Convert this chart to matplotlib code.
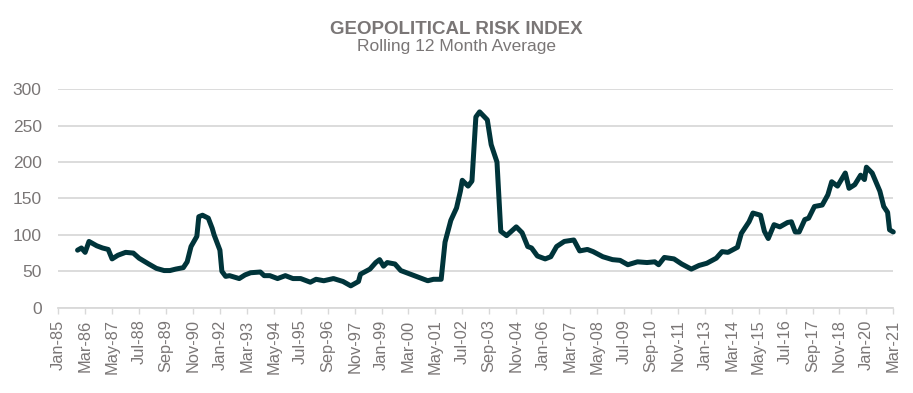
import matplotlib
matplotlib.use("Agg")
import matplotlib.pyplot as plt
import matplotlib.dates as mdates
import pandas as pd

plt.rcParams['font.family'] = ['Liberation Sans', 'DejaVu Sans']

dates = [
    "1985-11", "1986-01", "1986-03", "1986-05", "1986-09", "1986-12", "1987-03", "1987-05",
    "1987-08", "1987-12", "1988-04", "1988-07", "1988-12", "1989-04", "1989-08", "1989-11",
    "1990-02", "1990-06", "1990-08", "1990-10", "1991-01", "1991-02", "1991-04", "1991-07",
    "1991-09", "1991-10", "1992-01", "1992-02", "1992-04", "1992-06", "1992-11", "1993-02",
    "1993-05", "1993-10", "1993-12", "1994-03", "1994-07", "1994-11", "1995-03", "1995-07",
    "1995-12", "1996-03", "1996-07", "1996-12", "1997-05", "1997-09", "1998-01", "1998-02",
    "1998-07", "1998-10", "1998-12", "1999-02", "1999-04", "1999-08", "1999-11", "2000-05",
    "2000-10", "2001-01", "2001-04", "2001-08", "2001-10", "2002-01", "2002-04", "2002-06",
    "2002-07", "2002-10", "2002-12", "2003-02", "2003-04", "2003-08", "2003-10", "2004-01",
    "2004-03", "2004-06", "2004-11", "2005-02", "2005-05", "2005-07", "2005-10", "2006-02",
    "2006-05", "2006-08", "2006-12", "2007-05", "2007-08", "2007-12", "2008-03", "2008-08",
    "2009-01", "2009-05", "2009-09", "2010-02", "2010-07", "2010-11", "2011-01", "2011-04",
    "2011-09", "2012-01", "2012-06", "2012-10", "2013-02", "2013-07", "2013-10", "2014-01",
    "2014-06", "2014-08", "2014-12", "2015-02", "2015-06", "2015-08", "2015-10", "2016-01",
    "2016-04", "2016-08", "2016-10", "2016-12", "2017-02", "2017-05", "2017-07", "2017-10",
    "2018-02", "2018-05", "2018-07", "2018-10", "2019-02", "2019-04", "2019-07", "2019-10",
    "2019-12", "2020-01", "2020-04", "2020-08", "2020-10", "2020-12", "2021-01", "2021-03",
]
values = [
    79, 82, 76, 91, 85, 82, 80, 67,
    72, 76, 75, 68, 60, 54, 51, 51,
    53, 55, 63, 84, 98, 125, 127, 123,
    109, 100, 79, 50, 43, 44, 40, 45,
    48, 49, 44, 44, 40, 44, 40, 40,
    35, 39, 37, 40, 36, 30, 36, 46,
    53, 62, 66, 57, 62, 60, 51, 45,
    40, 37, 39, 39, 90, 120, 137, 160,
    175, 167, 174, 262, 269, 258, 224, 200,
    105, 99, 111, 103, 84, 82, 71, 67,
    70, 84, 91, 93, 78, 80, 77, 70,
    66, 65, 59, 63, 62, 63, 59, 69,
    67, 60, 53, 58, 61, 68, 77, 76,
    83, 102, 118, 130, 127, 105, 95, 114,
    111, 117, 118, 104, 104, 121, 123, 139,
    141, 155, 173, 167, 185, 164, 169, 182,
    176, 193, 185, 160, 139, 131, 107, 104,
]
yticks = [0, 50, 100, 150, 200, 250, 300]
title = "GEOPOLITICAL RISK INDEX"
subtitle = "Rolling 12 Month Average"

x = pd.to_datetime(dates, format="%Y-%m")
xticks = pd.date_range("1985-01-01", "2021-03-01", freq="14MS")

TEXT = "#7A7676"
GRID = "#D9D9D9"
LINE = "#00343A"

fig = plt.figure(figsize=(9.13, 3.93), dpi=100)
ax = fig.add_axes([0.0639, 0.2171, 0.9145, 0.5557])

ax.plot(x, values, color=LINE, lw=3.6, solid_joinstyle="round", solid_capstyle="round", clip_on=False, zorder=3)

ax.set_xlim(pd.Timestamp("1985-01-01"), pd.Timestamp("2021-03-01"))
ax.set_ylim(0, 300)
ax.set_yticks(yticks)
ax.set_xticks(xticks)
ax.xaxis.set_major_formatter(mdates.DateFormatter("%b-%y"))
ax.yaxis.grid(True, color=GRID, lw=1.3)
ax.set_axisbelow(True)
for s in ["left", "right", "top"]:
    ax.spines[s].set_visible(False)
ax.spines["bottom"].set_color(GRID)
ax.spines["bottom"].set_linewidth(1.3)
ax.tick_params(axis="y", length=0, pad=12, labelsize=12.5, labelcolor=TEXT)
ax.tick_params(axis="x", length=4.5, width=1, color=GRID, pad=4, labelsize=11.8,
               labelcolor=TEXT, labelrotation=90)

fig.text(0.5, 0.914, title, ha="center", va="baseline", fontsize=13.5, fontweight="bold", color=TEXT)
fig.text(0.5, 0.870, subtitle, ha="center", va="baseline", fontsize=12.5, color=TEXT)

fig.savefig("out.png", dpi=100)
